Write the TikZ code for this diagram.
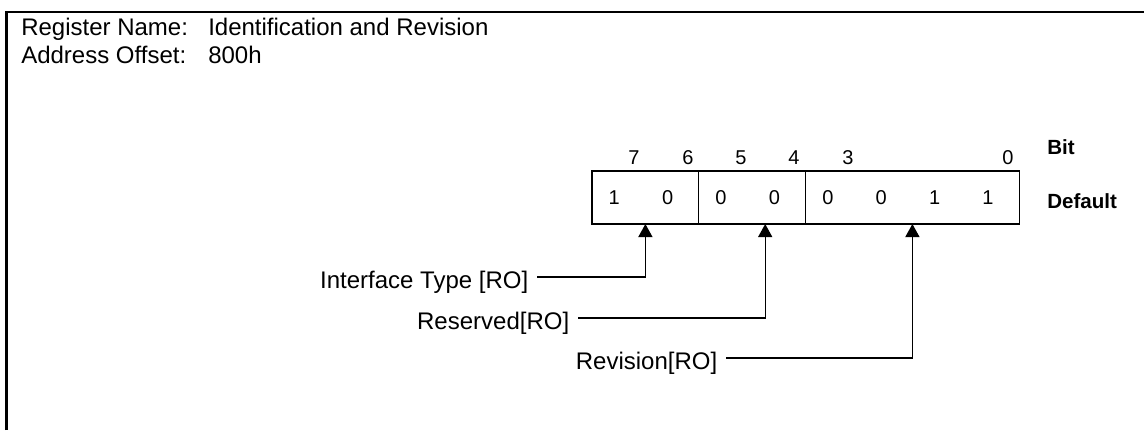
\documentclass[tikz,border=0pt]{standalone}
\usepackage{fontspec}
\setmainfont{Liberation Sans}
\usetikzlibrary{arrows.meta,positioning}

\begin{document}
\begin{tikzpicture}[
  x=0.75pt, y=-0.75pt,
  field/.style={draw, line width=1pt, minimum height=39.75pt, inner sep=0pt, outer sep=0pt},
  digit/.style={font=\fontsize{15}{18}\selectfont, inner sep=0pt},
  bitno/.style={font=\fontsize{15}{18}\selectfont, inner sep=0pt},
  head/.style={font=\fontsize{15.4}{18}\selectfont\bfseries, inner sep=0pt, anchor=west},
  txt/.style={font=\fontsize{18}{21}\selectfont, inner sep=0pt, anchor=base west},
  callout/.style={font=\fontsize{18}{21}\selectfont, inner sep=0pt, inner xsep=6.4pt, anchor=east},
  arr/.style={line width=1pt, -{Triangle[length=9.75pt, width=10.5pt]}}
]
\useasboundingbox (0,0) rectangle (1144,430);
\draw[line width=2pt] (6.3,430) -- (6.3,12) -- (1144,12);

\node[txt] (rname) at (21,35) {Register Name:};
\node[txt] (rval) at (208,35) {Identification and Revision};
\node[txt] (aname) at (21,63) {Address Offset:};
\node[txt] (aval) at (208,63) {800h};

\node[field, minimum width=80.1pt, anchor=north west] (f76) at (592,171) {};
\node[field, minimum width=80.1pt, right=0pt of f76] (f54) {};
\node[field, minimum width=160.2pt, right=0pt of f54] (f30) {};

\foreach \v [count=\i from 0] in {1,0,0,0,0,0,1,1}
  \node[digit] (d\i) at ({614.2+53.4*\i},198) {\v};
\foreach \b/\x in {7/634,6/688,5/741,4/794,3/848,0/1008}
  \node[bitno] (b\b) at (\x,158) {\b};

\node[head] (hbit) at (1047,147) {Bit};
\node[head] (hdef) at (1047,201) {Default};

\coordinate (tType) at (f76.south);
\coordinate (tRes) at ([xshift=9.75pt]f54.south);
\coordinate (tRev) at (f30.south);

\node[callout] (lType) at (537,282) {Interface Type [RO]};
\node[callout] (lRes) at (578,323) {Reserved[RO]};
\node[callout] (lRev) at (726,363) {Revision[RO]};

\draw[arr] ([yshift=3.75pt]lType.east) -| (tType);
\draw[arr] ([yshift=3.75pt]lRes.east) -| (tRes);
\draw[arr] ([yshift=3.75pt]lRev.east) -| (tRev);
\end{tikzpicture}
\end{document}
